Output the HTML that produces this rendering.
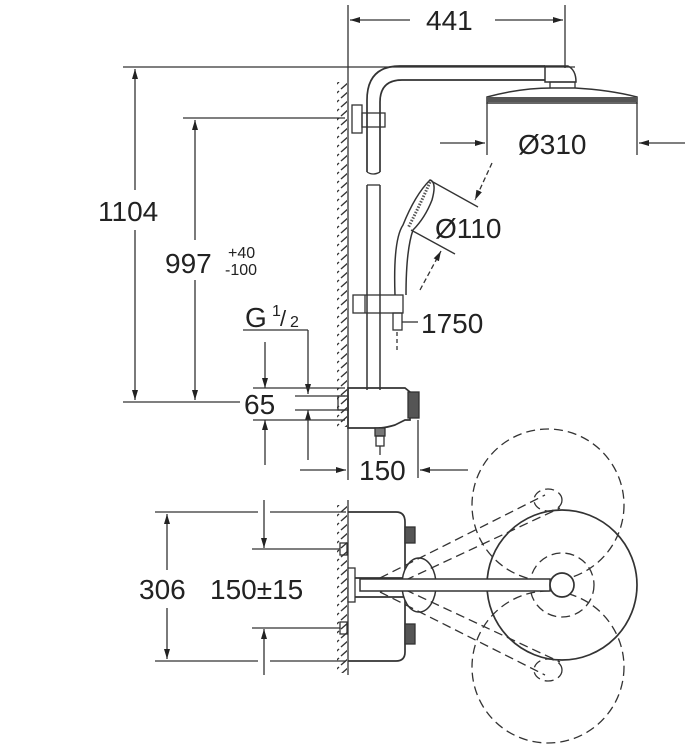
<!DOCTYPE html>
<html><head><style>html,body{margin:0;padding:0;background:#fff}svg{display:block}text{font-family:"Liberation Sans",sans-serif;fill:#222}</style></head>
<body>
<svg width="692" height="754" viewBox="0 0 692 754" xmlns="http://www.w3.org/2000/svg">
<defs>
<marker id="a" viewBox="0 0 10 10" refX="10" refY="5" markerWidth="10" markerHeight="10" markerUnits="userSpaceOnUse" orient="auto-start-reverse"><path d="M0,2 L10,5 L0,8 Z" fill="#222"/></marker>
<pattern id="h" width="10" height="9" patternUnits="userSpaceOnUse"><line x1="1" y1="8" x2="9" y2="1" stroke="#333" stroke-width="1.4"/></pattern>
</defs>
<g stroke="#333" stroke-width="1.3" fill="none">
<line x1="348" y1="5" x2="348" y2="480"/>
<rect x="337" y="82" width="10" height="345" fill="url(#h)" stroke="none"/>
<line x1="565" y1="5" x2="565" y2="68"/>
<line x1="350" y1="20" x2="410" y2="20" marker-start="url(#a)"/>
<line x1="495" y1="20" x2="563" y2="20" marker-end="url(#a)"/>
<line x1="123" y1="67" x2="575" y2="67"/>
<line x1="135" y1="69" x2="135" y2="190" marker-start="url(#a)"/>
<line x1="135" y1="230" x2="135" y2="400" marker-end="url(#a)"/>
<line x1="183" y1="118" x2="345" y2="118"/>
<line x1="195" y1="120" x2="195" y2="240" marker-start="url(#a)"/>
<line x1="195" y1="280" x2="195" y2="400" marker-end="url(#a)"/>
<line x1="123" y1="402" x2="240" y2="402"/>
<line x1="243" y1="330" x2="308" y2="330"/>
<line x1="308" y1="330" x2="308" y2="394" marker-end="url(#a)"/>
<line x1="308" y1="460" x2="308" y2="410" marker-end="url(#a)"/>
<line x1="253" y1="388" x2="345" y2="388"/>
<line x1="253" y1="420" x2="345" y2="420"/>
<line x1="295" y1="396" x2="345" y2="396"/>
<line x1="295" y1="410" x2="345" y2="410"/>
<line x1="265" y1="342" x2="265" y2="388" marker-end="url(#a)"/>
<line x1="265" y1="465" x2="265" y2="420" marker-end="url(#a)"/>
<path d="M367,172 V100 Q367,66 400,66 H545" stroke-width="1.7"/>
<path d="M380,172 V102 Q380,80 402,80 H545" stroke-width="1.7"/>
<path d="M367,172 Q373,176 380,172"/>
<path d="M367,185 V390 M380,185 V390" stroke-width="1.5"/>
<line x1="367" y1="185" x2="380" y2="185"/>
<rect x="352" y="105" width="10" height="28"/>
<rect x="362" y="113" width="23" height="14"/>
<path d="M545,66 H568 Q576,70 576,82 H545 Z" stroke-width="1.5"/>
<path d="M550,82 H575 V90 H550 Z"/>
<path d="M487,97 Q520,88 552,88 H575 Q610,90 637,97 V103 H487 Z" fill="#fff" stroke="#333" stroke-width="1.5"/>
<rect x="487" y="97" width="150" height="5" fill="#555" stroke="none"/>
<line x1="487" y1="103" x2="487" y2="155"/>
<line x1="637" y1="103" x2="637" y2="155"/>
<line x1="440" y1="143" x2="485" y2="143" marker-end="url(#a)"/>
<line x1="685" y1="143" x2="639" y2="143" marker-end="url(#a)"/>
<path d="M395,295 Q393,240 403,225 Q415,195 430,180 Q437,182 432,200 Q425,218 413,230 Q406,250 406,295" stroke-width="1.5"/>
<path d="M430,182 Q420,205 408,228" stroke="#555" stroke-width="3" stroke-dasharray="1.5 1.5"/>
<line x1="433" y1="182" x2="478" y2="207"/>
<line x1="411" y1="230" x2="455" y2="254"/>
<line x1="492" y1="163" x2="475" y2="200" stroke-dasharray="5 3" marker-end="url(#a)"/>
<line x1="420" y1="290" x2="441" y2="251" stroke-dasharray="5 3" marker-end="url(#a)"/>
<rect x="353" y="295" width="50" height="18"/>
<line x1="365" y1="295" x2="365" y2="313"/>
<rect x="393" y="313" width="9" height="17"/>
<line x1="397" y1="332" x2="397" y2="352" stroke-dasharray="4 3"/>
<line x1="402" y1="322" x2="418" y2="322"/>
<path d="M348,388 H405 L410,392 V420 H405 L395,425 Q385,428 378,428 H348 Z" stroke-width="1.7"/>
<rect x="408" y="392" width="11" height="26" fill="#555"/>
<rect x="338" y="396" width="10" height="14"/>
<rect x="375" y="428" width="10" height="8" fill="#777"/>
<rect x="376" y="436" width="8" height="10"/>
<line x1="380" y1="446" x2="380" y2="455"/>
<line x1="418" y1="420" x2="418" y2="478"/>
<line x1="300" y1="470" x2="346" y2="470" marker-end="url(#a)"/>
<line x1="468" y1="470" x2="420" y2="470" marker-end="url(#a)"/>
<line x1="348" y1="500" x2="348" y2="675"/>
<rect x="337" y="505" width="10" height="168" fill="url(#h)" stroke="none"/>
<line x1="155" y1="512" x2="258" y2="512"/><line x1="270" y1="512" x2="346" y2="512"/>
<line x1="155" y1="661" x2="258" y2="661"/><line x1="270" y1="661" x2="346" y2="661"/>
<line x1="167" y1="514" x2="167" y2="570" marker-start="url(#a)"/>
<line x1="167" y1="608" x2="167" y2="659" marker-end="url(#a)"/>
<line x1="252" y1="549" x2="340" y2="549"/>
<line x1="252" y1="628" x2="340" y2="628"/>
<line x1="264" y1="500" x2="264" y2="548" marker-end="url(#a)"/>
<line x1="264" y1="675" x2="264" y2="629" marker-end="url(#a)"/>
<rect x="340" y="543" width="7" height="12"/>
<rect x="340" y="622" width="7" height="12"/>
<path d="M348,512 H396 Q405,512 405,522 V578 H348" stroke-width="1.7"/>
<path d="M348,597 H405 V652 Q405,661 396,661 H348" stroke-width="1.7"/>
<rect x="405" y="527" width="10" height="16" fill="#555"/>
<rect x="405" y="624" width="10" height="20" fill="#555"/>
<rect x="348" y="568" width="7" height="34" fill="#fff"/>
<ellipse cx="419" cy="585" rx="17" ry="27" fill="#fff" stroke-width="1.5"/>
<g stroke-dasharray="9 5">
<circle cx="548" cy="505" r="76"/>
<circle cx="548" cy="667" r="76"/>
<circle cx="562" cy="585" r="32"/>
<line x1="380" y1="578" x2="545" y2="495"/>
<line x1="380" y1="592" x2="560" y2="508"/>
<line x1="380" y1="578" x2="560" y2="662"/>
<line x1="380" y1="592" x2="545" y2="675"/>
<ellipse cx="548" cy="500" rx="14" ry="11"/>
<ellipse cx="548" cy="670" rx="14" ry="11"/>
</g>
<circle cx="562" cy="585" r="75" stroke-width="1.7" fill="none"/>
<rect x="360" y="579" width="190" height="12" fill="#fff" stroke-width="1.5"/>
<circle cx="562" cy="585" r="12" fill="#fff" stroke-width="1.7"/>
</g>
<g font-size="28">
<text x="426" y="30">441</text>
<text x="98" y="221">1104</text>
<text x="165" y="273">997</text>
<text x="245" y="327">G</text>
<text x="244" y="414">65</text>
<text x="518" y="154">Ø310</text>
<text x="435" y="238">Ø110</text>
<text x="421" y="333">1750</text>
<text x="359" y="480">150</text>
<text x="139" y="599">306</text>
<text x="210" y="599">150±15</text>
</g>
<text x="228" y="258" font-size="16">+40</text>
<text x="225" y="275" font-size="16">-100</text>
<text x="272" y="316" font-size="16">1</text>
<text x="280" y="326" font-size="22">/</text>
<text x="290" y="327" font-size="16">2</text>
</svg>
</body></html>
